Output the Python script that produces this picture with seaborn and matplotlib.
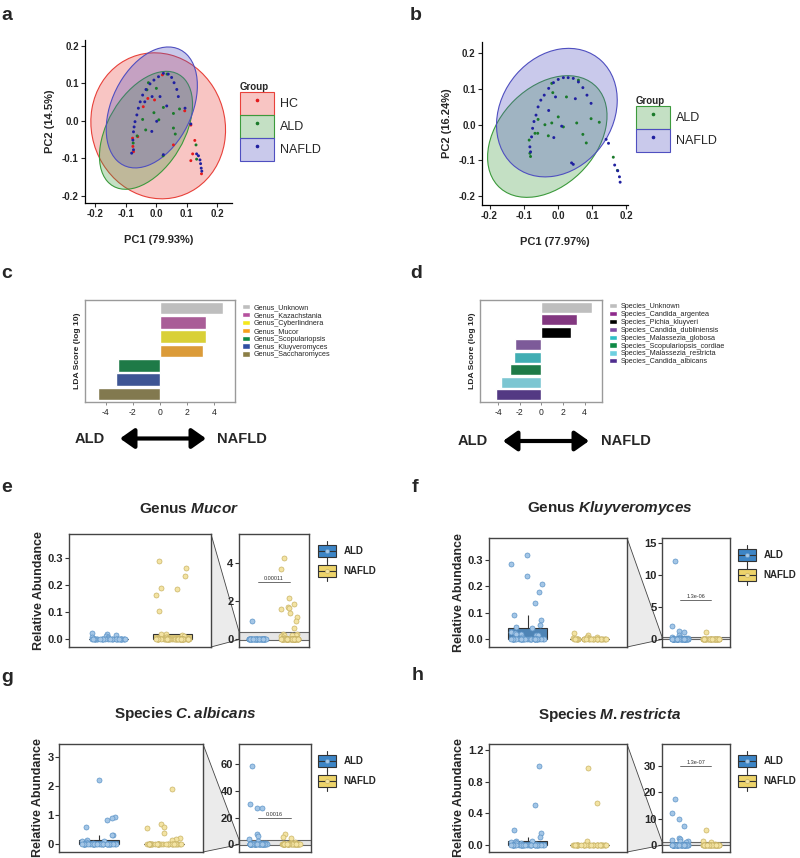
import numpy as np
import pandas as pd
import matplotlib
matplotlib.use("Agg")
import matplotlib.pyplot as plt
import seaborn as sns
from matplotlib.colors import to_rgba
from matplotlib.patches import Ellipse, Patch, Rectangle, Polygon, FancyArrowPatch
from matplotlib.lines import Line2D
from matplotlib.legend_handler import HandlerBase

sns.set_style("white")
plt.rcParams['font.family'] = ['Liberation Sans', 'DejaVu Sans']
plt.rcParams['axes.unicode_minus'] = False
plt.rcParams['mathtext.fontset'] = 'custom'
plt.rcParams['mathtext.it'] = 'Liberation Sans:italic:bold'
plt.rcParams['mathtext.rm'] = 'Liberation Sans:bold'

W, H = 800, 858

# ---------------- PCA (a: HC/ALD/NAFLD, b: ALD/NAFLD) ----------------
a_hc_pc1 = [-0.076, -0.074, -0.060, -0.077, -0.042, -0.027, -0.005, 0.021, 0.094, 0.057,
            0.114, 0.127, 0.120, 0.114, 0.149]
a_hc_pc2 = [-0.068, -0.082, -0.042, -0.046, 0.038, 0.060, 0.056, 0.123, 0.027, -0.064,
            -0.011, -0.052, -0.088, -0.106, -0.141]
a_ald_pc1 = [-0.025, -0.030, 0.001, 0.024, -0.007, -0.044, 0.009, 0.057, 0.063, 0.077,
             0.057, -0.034, -0.062, 0.133, 0.131, 0.023, 0.036, -0.075]
a_ald_pc2 = [0.102, 0.083, 0.087, 0.036, 0.022, 0.004, 0.003, -0.019, -0.035, 0.032,
             0.020, -0.024, -0.040, -0.102, -0.064, -0.093, 0.125, -0.059]
a_nafld_pc1 = [-0.074, -0.076, -0.074, -0.072, -0.069, -0.063, -0.058, -0.052, -0.044, -0.033,
               -0.020, -0.007, 0.008, 0.024, 0.040, 0.051, 0.059, 0.068, 0.073, 0.095,
               0.013, -0.013, 0.035, -0.014, 0.024, 0.114, 0.133, 0.139, 0.144, 0.146,
               0.148, 0.150, 0.002, -0.080, -0.037]
a_nafld_pc2 = [-0.077, -0.051, -0.029, -0.016, -0.002, 0.016, 0.034, 0.051, 0.069, 0.084,
               0.099, 0.109, 0.118, 0.127, 0.125, 0.116, 0.102, 0.084, 0.065, 0.034,
               0.065, 0.065, 0.040, -0.028, -0.090, -0.008, -0.088, -0.093, -0.104, -0.114,
               -0.126, -0.134, -0.001, -0.086, 0.051]

b_ald_pc1 = [-0.084, -0.082, -0.080, -0.067, -0.058, -0.038, -0.028, -0.018, 0.001, 0.016,
             0.025, -0.018, 0.060, 0.055, 0.097, 0.121, 0.073, 0.083, 0.162, 0.174,
             -0.015, -0.059]
b_ald_pc2 = [-0.043, -0.080, -0.089, -0.024, 0.015, 0.000, -0.031, 0.005, 0.022, -0.006,
             0.078, 0.116, 0.125, 0.005, 0.017, 0.007, -0.027, -0.051, -0.091, -0.128,
             0.090, -0.024]
b_nafld_pc1 = [-0.082, -0.080, -0.077, -0.074, -0.070, -0.064, -0.058, -0.050, -0.040, -0.027,
               -0.013, 0.001, 0.016, 0.030, 0.045, 0.060, 0.073, 0.085, 0.097, -0.007,
               0.051, -0.012, 0.040, 0.045, 0.141, 0.148, 0.166, 0.175, 0.180, 0.182,
               0.011, -0.027]
b_nafld_pc2 = [-0.062, -0.076, -0.034, -0.010, 0.009, 0.027, 0.050, 0.069, 0.083, 0.102,
               0.118, 0.127, 0.132, 0.132, 0.130, 0.120, 0.104, 0.083, 0.060, 0.078,
               0.073, -0.036, -0.107, -0.111, -0.041, -0.052, -0.113, -0.129, -0.146, -0.161,
               -0.004, 0.040]

# confidence ellipses (center, full width, full height, angle) per group
a_groups = ['HC', 'ALD', 'NAFLD']
a_ell_cx = [0.007, -0.033, -0.014]
a_ell_cy = [-0.013, -0.025, 0.036]
a_ell_w = [0.444, 0.372, 0.364]
a_ell_h = [0.387, 0.232, 0.247]
a_ell_ang = [-12, 47, 51]

b_groups = ['ALD', 'NAFLD']
b_ell_cx = [-0.031, -0.003]
b_ell_cy = [-0.033, 0.034]
b_ell_w = [0.40, 0.39]
b_ell_h = [0.28, 0.32]
b_ell_ang = [43, 48]

ell_col = {'HC': '#E8413A', 'ALD': '#3C9A3C', 'NAFLD': '#4F4FC0'}
dot_col = {'HC': '#E41A1C', 'ALD': '#1A7A2A', 'NAFLD': '#2020A0'}

# ---------------- LDA (c: genus, d: species) ----------------
c_taxa = ['Genus_Unknown', 'Genus_Kazachstania', 'Genus_Cyberlindnera', 'Genus_Mucor',
          'Genus_Scopulariopsis', 'Genus_Kluyveromyces', 'Genus_Saccharomyces']
c_lda = [4.66, 3.36, 3.36, 3.19, -3.07, -3.24, -4.56]
c_colors = ['#BEBEBE', '#B5519E', '#F4E81C', '#F6A01E', '#0E8A45', '#2F4FA3', '#8B7E46']

d_taxa = ['Species_Unknown', 'Species_Candida_argentea', 'Species_Pichia_kluyveri',
          'Species_Candida_dubliniensis', 'Species_Malassezia_globosa',
          'Species_Scopulariopsis_cordiae', 'Species_Malassezia_restricta',
          'Species_Candida_albicans']
d_lda = [4.68, 3.29, 2.74, -2.49, -2.58, -2.89, -3.78, -4.22]
d_colors = ['#BEBEBE', '#8E2A8C', '#000000', '#7E4FA3', '#2EBFC6', '#0E8A45', '#6ED0E0', '#4F2D8F']

# ---------------- relative abundance (e-h) ----------------
mucor_ald = [0.95, 0.025, 0.02, 0.015, 0.012, 0.01, 0.008, 0.005,
             0, 0, 0, 0, 0, 0, 0, 0, 0, 0, 0, 0, 0, 0, 0, 0,
             0, 0, 0, 0, 0, 0, 0, 0, 0, 0, 0, 0, 0, 0, 0, 0]
mucor_nafld = [4.28, 3.67, 2.14, 1.84, 1.67, 1.61, 1.58, 1.38, 1.17, 0.95, 0.56,
               0.29, 0.265, 0.235, 0.19, 0.187, 0.165, 0.105, 0.02, 0.02, 0.015,
               0.012, 0.01, 0.008, 0.006, 0.005,
               0, 0, 0, 0, 0, 0, 0, 0, 0, 0, 0, 0, 0, 0, 0, 0,
               0, 0, 0, 0, 0, 0, 0, 0, 0, 0, 0, 0, 0, 0, 0, 0,
               0, 0, 0, 0, 0, 0, 0, 0, 0, 0, 0, 0, 0, 0, 0]
kluyv_ald = [12.2, 2.1, 1.3, 1.05, 0.6, 0.32, 0.285, 0.24, 0.21, 0.178, 0.138, 0.093,
             0.072, 0.055, 0.048, 0.042, 0.028, 0.025, 0.022, 0.02, 0.018, 0.015, 0.01,
             0, 0, 0, 0, 0, 0, 0, 0, 0, 0, 0, 0, 0, 0, 0, 0,
             0, 0, 0, 0, 0, 0, 0, 0, 0, 0, 0, 0, 0, 0, 0, 0,
             0, 0, 0, 0, 0, 0]
kluyv_nafld = [1.2, 0.025, 0.015, 0.01, 0.008, 0.006, 0.005,
               0, 0, 0, 0, 0, 0, 0, 0, 0, 0, 0, 0, 0, 0, 0, 0,
               0, 0, 0, 0, 0, 0, 0, 0, 0, 0, 0, 0, 0, 0]
alb_ald = [58.5, 30.0, 27.0, 26.8, 7.3, 6.0, 4.2, 2.2, 0.95, 0.9, 0.85, 0.6, 0.3, 0.3,
           0.15, 0.12, 0.1, 0.08, 0.05, 0.03,
           0, 0, 0, 0, 0, 0, 0, 0, 0, 0, 0, 0, 0, 0, 0, 0,
           0, 0, 0, 0, 0, 0, 0, 0, 0, 0, 0, 0, 0, 0, 0, 0,
           0, 0, 0, 0, 0]
alb_nafld = [7.5, 5.5, 5.0, 1.9, 0.7, 0.6, 0.55, 0.4, 0.2, 0.18, 0.15,
             0, 0, 0, 0, 0, 0, 0, 0, 0, 0, 0, 0, 0, 0, 0, 0,
             0, 0, 0, 0, 0, 0, 0, 0, 0, 0, 0, 0, 0, 0, 0, 0,
             0, 0, 0]
restr_ald = [17.4, 12.3, 9.8, 7.2, 2.5, 2.2, 2.0, 1.5, 1.45, 1.0, 0.5, 0.19, 0.15, 0.097,
             0.05, 0.045, 0.04, 0.035, 0.03, 0.02, 0.01,
             0, 0, 0, 0, 0, 0, 0, 0, 0, 0, 0, 0, 0, 0, 0, 0,
             0, 0, 0, 0, 0, 0, 0, 0, 0, 0, 0, 0, 0, 0, 0, 0,
             0, 0, 0, 0]
restr_nafld = [5.7, 1.4, 0.97, 0.53, 0.05,
               0, 0, 0, 0, 0, 0, 0, 0, 0, 0, 0, 0, 0, 0, 0, 0,
               0, 0, 0, 0, 0, 0, 0, 0, 0, 0, 0, 0, 0, 0, 0, 0,
               0, 0, 0]

grp = ['ALD', 'NAFLD']
box_col = {'ALD': '#3D85C6', 'NAFLD': '#EDD36A'}
pt_fill = {'ALD': '#A4C6E6', 'NAFLD': '#F3E3A3'}
pt_edge = {'ALD': '#5E95C8', 'NAFLD': '#C9B466'}

fig = plt.figure(figsize=(W / 100, H / 100), dpi=100)


def px_axes(x0, y0, x1, y1):
    return fig.add_axes([x0 / W, 1 - y1 / H, (x1 - x0) / W, (y1 - y0) / H])


def ftext(x, y, s, **kw):
    return fig.text(x / W, 1 - y / H, s, **kw)


def bold_ticks(ax):
    for t in ax.get_xticklabels() + ax.get_yticklabels():
        t.set_fontweight('bold')


def pca_panel(box, pts, groups, ecx, ecy, ew, eh, eang, xlim, ylim, xlab, ylab, leg_xy):
    ax = px_axes(*box)
    for g, cx, cy, w, h, ang in zip(groups, ecx, ecy, ew, eh, eang):
        ax.add_patch(Ellipse((cx, cy), w, h, angle=ang, fc=to_rgba(ell_col[g], 0.3),
                             ec=ell_col[g], lw=0.8, zorder=1))
    df = pd.concat([pd.DataFrame({'PC1': pts[g][0], 'PC2': pts[g][1], 'Group': g}) for g in groups])
    sns.scatterplot(data=df, x='PC1', y='PC2', hue='Group', palette=dot_col, s=4.5,
                    linewidth=0, legend=False, ax=ax, zorder=3)
    ax.set_xlim(xlim)
    ax.set_ylim(ylim)
    ticks = [-0.2, -0.1, 0.0, 0.1, 0.2]
    ax.set_xticks(ticks, labels=[f'{t:.1f}' for t in ticks])
    ax.set_yticks(ticks, labels=[f'{t:.1f}' for t in ticks])
    for s in ['top', 'right']:
        ax.spines[s].set_visible(False)
    for s in ['left', 'bottom']:
        ax.spines[s].set_color('black')
        ax.spines[s].set_linewidth(0.9)
    ax.tick_params(left=True, bottom=True, direction='out', length=3, width=0.8,
                   labelsize=7, pad=1.5)
    bold_ticks(ax)
    ax.set_xlabel(xlab, fontsize=8, fontweight='bold', labelpad=11)
    ax.set_ylabel(ylab, fontsize=8, fontweight='bold', labelpad=5)
    handles = [(Patch(fc=to_rgba(ell_col[g], 0.3), ec=ell_col[g], lw=0.8),
                Line2D([], [], ls='', marker='o', ms=1.6, color=dot_col[g])) for g in groups]
    ax.legend(handles, groups, title='Group', loc='upper left',
              bbox_to_anchor=(leg_xy[0] / W, 1 - leg_xy[1] / H), bbox_transform=fig.transFigure,
              frameon=False, fontsize=9, title_fontproperties={'weight': 'bold', 'size': 7},
              handlelength=2.7, handleheight=2.45, labelspacing=0, handletextpad=0.5,
              borderpad=0, borderaxespad=0, alignment='left')


def lda_panel(box, taxa, scores, colors, xlim, leg_xy):
    ax = px_axes(*box)
    df = pd.DataFrame({'Taxon': taxa, 'LDA': scores})
    sns.barplot(data=df, x='LDA', y='Taxon', hue='Taxon', palette=dict(zip(taxa, colors)),
                orient='h', width=0.88, edgecolor='white', linewidth=1, legend=False, ax=ax)
    ax.set_xlim(xlim)
    ax.set_ylim(len(taxa) - 0.43, -0.57)
    ax.set_xticks([-4, -2, 0, 2, 4])
    ax.set_yticks([])
    ax.set_xlabel('')
    ax.set_ylabel('LDA Score (log 10)', fontsize=6.1, fontweight='bold', labelpad=3)
    for s in ax.spines.values():
        s.set_visible(True)
        s.set_color('#9A9A9A')
        s.set_linewidth(1)
    ax.tick_params(axis='x', bottom=True, length=2, width=0.6, color='#777777',
                   labelsize=6.2, pad=2)
    handles = [Patch(fc=c, label=t) for t, c in zip(taxa, colors)]
    ax.legend(handles=handles, loc='upper left', bbox_to_anchor=(leg_xy[0] / W, 1 - leg_xy[1] / H),
              bbox_transform=fig.transFigure, frameon=False, fontsize=5.2, handlelength=1.1,
              handleheight=0.75, labelspacing=0.1, handletextpad=0.5, borderpad=0, borderaxespad=0)


def direction_row(x_ald, xa0, xa1, x_nafld, y):
    ftext(x_ald, y, 'ALD', fontsize=10.5, fontweight='bold', ha='center', va='center')
    ftext(x_nafld, y, 'NAFLD', fontsize=10.5, fontweight='bold', ha='center', va='center')
    arr = FancyArrowPatch((xa0 / W, 1 - y / H), (xa1 / W, 1 - y / H), transform=fig.transFigure,
                          arrowstyle='<|-|>,head_length=0.85,head_width=0.6', mutation_scale=10,
                          lw=3, color='black', shrinkA=0, shrinkB=0)
    fig.add_artist(arr)


class BoxKey(HandlerBase):
    def create_artists(self, legend, orig_handle, xdescent, ydescent, width, height, fontsize, trans):
        x0, y0 = -xdescent, -ydescent
        xc, yc = x0 + width / 2, y0 + height / 2
        g = orig_handle.get_label()
        arts = [Line2D([xc, xc], [y0 - 0.35 * height, y0 + 1.35 * height], color='#333333', lw=0.8),
                Rectangle((x0, y0), width, height, fc=box_col[g], ec='#333333', lw=0.8),
                Line2D([x0, x0 + width], [yc, yc], color='#333333', lw=0.8),
                Line2D([xc], [yc], ls='', marker='o', ms=3, mfc=pt_fill[g], mec=pt_edge[g], mew=0.5)]
        for a in arts:
            a.set_transform(trans)
        return arts


def style_box_axes(ax, ylim, ticks, labels):
    ax.set_ylim(ylim)
    ax.set_yticks(ticks, labels=labels)
    ax.set_xticks([])
    ax.set_xlabel('')
    ax.set_ylabel('')
    for s in ax.spines.values():
        s.set_visible(True)
        s.set_color('#444444')
        s.set_linewidth(1)
    ax.tick_params(axis='y', left=True, length=3, width=0.8, color='#333333', labelsize=8, pad=1)
    bold_ticks(ax)


def abundance_panel(main_box, inset_x, ald, nafld, main_ylim, main_ticks, main_fmt,
                    inset_ylim, inset_ticks, pval, pval_y, title, title_xy, leg_xy):
    x0, y0, x1, y1 = main_box
    ax = px_axes(x0, y0, x1, y1)
    axi = px_axes(inset_x[0], y0, inset_x[1], y1)
    df = pd.DataFrame({'Group': ['ALD'] * len(ald) + ['NAFLD'] * len(nafld),
                       'Abundance': ald + nafld})
    for a, w, xl in ((ax, 0.62, (-0.62, 1.6)), (axi, 0.6, (-0.58, 1.6))):
        sns.boxplot(data=df, x='Group', y='Abundance', hue='Group', order=grp, hue_order=grp,
                    palette=box_col, width=w, showfliers=False, showcaps=False, linewidth=0.8,
                    linecolor='#333333', legend=False, ax=a)
        for g in grp:
            np.random.seed(11)
            sns.stripplot(data=df[df.Group == g], x='Group', y='Abundance', order=grp,
                          color=pt_fill[g], edgecolor=pt_edge[g], linewidth=0.5, size=3.6,
                          jitter=0.27, zorder=3, ax=a)
        a.set_xlim(xl)
    style_box_axes(ax, main_ylim, main_ticks, [main_fmt.format(t) for t in main_ticks])
    style_box_axes(axi, inset_ylim, inset_ticks, [f'{t:g}' for t in inset_ticks])
    ax.set_ylabel('Relative Abundance', fontsize=9, fontweight='bold', labelpad=2)

    # zoomed range shown in the full-range inset
    axi.axhspan(main_ylim[0], main_ylim[1], fc='#E6E6E6', ec='#666666', lw=0.8, zorder=0.5)
    xi = axi.get_xlim()[0]
    to_fig = fig.transFigure.inverted()
    corners = np.array([ax.transAxes.transform((1, 1)), axi.transData.transform((xi, main_ylim[1])),
                        axi.transData.transform((xi, main_ylim[0])), ax.transAxes.transform((1, 0))])
    fig.add_artist(Polygon(to_fig.transform(corners), closed=True, transform=fig.transFigure,
                           fc='#EBEBEB', ec='#444444', lw=0.6, zorder=0))

    axi.plot([0, 1], [pval_y, pval_y], color='#555555', lw=0.6, zorder=4)
    axi.annotate(pval, (0.5, pval_y), xytext=(0, 1), textcoords='offset points', ha='center',
                 va='bottom', fontsize=4, color='#333333')

    ftext(title_xy[0], title_xy[1], title, fontsize=11, fontweight='bold', ha='center', va='center')
    handles = [Patch(fc=box_col[g], label=g) for g in grp]
    fig.legend(handles=handles, loc='upper left', bbox_to_anchor=(leg_xy[0] / W, 1 - leg_xy[1] / H),
               bbox_transform=fig.transFigure, handler_map={Patch: BoxKey()}, frameon=False,
               prop={'weight': 'bold', 'size': 7}, handlelength=1.9, handleheight=1.5,
               labelspacing=0.8, handletextpad=0.7, borderpad=0, borderaxespad=0)


# ---- a / b ----
pca_panel((85, 40, 232, 203),
          {'HC': (a_hc_pc1, a_hc_pc2), 'ALD': (a_ald_pc1, a_ald_pc2), 'NAFLD': (a_nafld_pc1, a_nafld_pc2)},
          a_groups, a_ell_cx, a_ell_cy, a_ell_w, a_ell_h, a_ell_ang,
          (-0.233, 0.249), (-0.219, 0.216), 'PC1 (79.93%)', 'PC2 (14.5%)', (240, 82))
pca_panel((482, 42, 628, 205),
          {'ALD': (b_ald_pc1, b_ald_pc2), 'NAFLD': (b_nafld_pc1, b_nafld_pc2)},
          b_groups, b_ell_cx, b_ell_cy, b_ell_w, b_ell_h, b_ell_ang,
          (-0.222, 0.205), (-0.225, 0.232), 'PC1 (77.97%)', 'PC2 (16.24%)', (636, 96))

# ---- c / d ----
lda_panel((85, 300, 235, 402), c_taxa, c_lda, c_colors, (-5.52, 5.52), (242, 304))
lda_panel((480, 300, 602, 402), d_taxa, d_lda, d_colors, (-5.69, 5.6), (609, 303))
direction_row(89.5, 120, 206, 242, 438.5)
direction_row(473, 503, 589, 626, 441)

# ---- e - h ----
abundance_panel((69, 534, 211, 647), (239, 309), mucor_ald, mucor_nafld,
                (-0.0285, 0.389), [0, 0.1, 0.2, 0.3], '{:.1f}', (-0.42, 5.53), [0, 2, 4],
                '0.00011', 3.0, 'Genus $\\mathit{Mucor}$', (189, 509), (318, 545))
abundance_panel((489, 538, 627, 647), (662, 730), kluyv_ald, kluyv_nafld,
                (-0.029, 0.383), [0, 0.1, 0.2, 0.3], '{:.1f}', (-1.2, 15.7), [0, 5, 10, 15],
                '1.3e-06', 6.1, 'Genus $\\mathit{Kluyveromyces}$', (610, 508), (738, 549))
abundance_panel((59, 744, 203, 852), (239, 311), alb_ald, alb_nafld,
                (-0.27, 3.46), [0, 1, 2, 3], '{:.0f}', (-5.8, 75), [0, 20, 40, 60],
                '0.0016', 19.7, 'Species $\\mathit{C.albicans}$', (185, 714), (318, 755))
abundance_panel((489, 744, 627, 852), (662, 730), restr_ald, restr_nafld,
                (-0.088, 1.275), [0, 0.4, 0.8, 1.2], '{:.1f}', (-2.66, 38.4), [0, 10, 20, 30],
                '1.3e-07', 30, 'Species $\\mathit{M.restricta}$', (610, 715), (738, 755))

# panel letters
for lab, x, y in [('a', 1, 20), ('b', 410, 20), ('c', 1, 278), ('d', 410, 278),
                  ('e', 1, 492), ('f', 412, 492), ('g', 1, 682), ('h', 412, 680)]:
    ftext(x, y, lab, fontsize=14, fontweight='bold', ha='left', va='baseline')

fig.savefig('out.png', dpi=100, facecolor='white')
